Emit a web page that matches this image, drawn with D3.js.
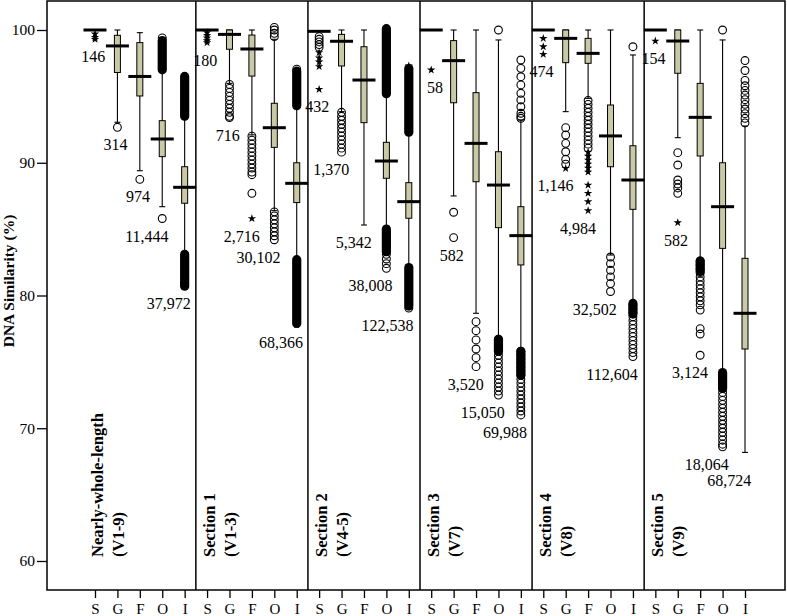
<!DOCTYPE html>
<html><head><meta charset="utf-8">
<script src="https://cdn.jsdelivr.net/npm/d3@7"></script>
<style>
body{margin:0;background:#fff}
svg text{font-family:"Liberation Serif","Times New Roman",Times,serif;fill:#000}
</style>
</head><body>
<svg id="chart" width="787" height="616"></svg>
<script>
// ---------- data ----------
const panelNames = ["Nearly-whole-length", "Section 1", "Section 2", "Section 3", "Section 4", "Section 5"];
const panelRegions = ["(V1-9)", "(V1-3)", "(V4-5)", "(V7)", "(V8)", "(V9)"];
const groups = ["S", "G", "F", "O", "I"];
const yTicks = [60, 70, 80, 90, 100];

// 30 boxes: panel by panel, S G F O I
const whiskerLow = [
  100, 93.05, 89.4, 86.69, 83.18,
  100, 95.98, 92.1, 86.39, 82.8,
  99.9, 93.85, 85.31, 85.06, 82.17,
  100, 87.5, 78.66, 76.78, 75.9,
  100, 93.85, 94.85, 83.05, 79.41,
  100, 91.89, 82.73, 74.26, 68.18];
const quartile1 = [
  100, 96.8, 95.03, 90.46, 86.95,
  100, 98.55, 96.53, 91.16, 87.0,
  99.9, 97.29, 93.02, 88.83, 85.82,
  100, 94.52, 88.57, 85.11, 82.3,
  100, 97.54, 97.49, 89.7, 86.49,
  100, 96.74, 90.51, 83.55, 75.97];
const medians = [
  100, 98.8, 96.5, 91.79, 88.15,
  100, 99.67, 98.57, 92.64, 88.45,
  99.9, 99.15, 96.23, 90.13, 87.07,
  100, 97.69, 91.46, 88.32, 84.51,
  100, 99.37, 98.24, 92.02, 88.7,
  100, 99.17, 93.42, 86.69, 78.66];
const quartile3 = [
  100, 99.6, 99.05, 93.17, 89.7,
  100, 100, 99.62, 94.48, 90.0,
  99.9, 99.67, 98.74, 91.54, 88.5,
  100, 99.2, 95.28, 90.83, 86.69,
  100, 100, 99.37, 94.35, 91.28,
  100, 100, 95.98, 90.0, 82.8];
const whiskerHigh = [
  100, 100, 99.8, 96.86, 93.4,
  100, 100, 100, 99.3, 94.2,
  99.9, 100, 100, 95.1, 92.2,
  100, 100, 100, 99.25, 93.22,
  100, 100, 100, 100, 98.12,
  100, 100, 100, 99.25, 92.77];

const sampleCounts = [
  "146", "314", "974", "11,444", "37,972",
  "180", "716", "2,716", "30,102", "68,366",
  "432", "1,370", "5,342", "38,008", "122,538",
  "58", "582", "3,520", "15,050", "69,988",
  "474", "1,146", "4,984", "32,502", "112,604",
  "154", "582", "3,124", "18,064", "68,724"];

// outliers drawn as open circles
const outlierCircles = [
  [], [92.67], [88.75], [99.4, 85.8], [80.9],
  [], [95.9, 95.6, 95.3, 95.0, 94.7, 94.4, 94.1, 93.8, 93.5, 93.4],
      [92.0, 91.7, 91.4, 91.1, 90.8, 90.5, 90.2, 89.9, 89.6, 89.3, 89.1, 87.7],
      [100.2, 100.0, 99.75, 99.5, 86.3, 86.0, 85.7, 85.4, 85.1, 84.8, 84.5, 84.2],
      [97.05],
  [99.5, 99.3, 99.1, 98.9, 98.7],
      [93.8, 93.5, 93.2, 92.9, 92.6, 92.3, 92.0, 91.7, 91.4, 91.1, 90.8],
      [], [83.1, 82.75, 82.4, 82.05], [79.05],
  [], [86.27, 84.36], [78.03, 77.35, 76.65, 75.97, 75.32, 74.64],
      [100.0, 76.7, 76.4, 76.1, 75.8, 75.5, 75.2, 74.9, 74.6, 74.3, 74.0, 73.7, 73.4, 73.1, 72.8, 72.5],
      [97.74, 97.11, 96.48, 95.86, 95.23, 94.73, 94.22, 93.73, 93.5, 93.35,
       75.8, 75.5, 75.2, 74.9, 74.6, 74.3, 74.0, 73.7, 73.4, 73.1, 72.8, 72.5, 72.2, 71.9, 71.6, 71.3, 71.0],
  [], [92.64, 92.09, 91.46, 90.83, 90.26, 89.9],
      [94.7, 94.4, 94.1, 93.8, 93.5, 93.2, 92.9, 92.6, 92.3, 92.0, 91.7, 91.4, 91.1],
      [82.9, 82.4, 81.9, 81.4, 80.9, 80.3],
      [98.74, 79.3, 79.0, 78.7, 78.4, 78.1, 77.8, 77.5, 77.2, 76.9, 76.6, 76.3, 76.0, 75.7, 75.4],
  [], [90.76, 89.83, 88.7, 88.4, 88.1, 87.7],
      [82.6, 82.3, 82.0, 81.7, 81.4, 81.1, 80.8, 80.5, 80.2, 79.9, 79.6, 79.3, 78.9, 77.5, 77.1, 75.5],
      [100.0, 73.9, 73.6, 73.3, 73.0, 72.7, 72.4, 72.1, 71.8, 71.5, 71.2, 70.9, 70.6, 70.3, 70.0, 69.7, 69.4, 69.1, 68.8, 68.6],
      [97.7, 96.95, 96.2, 95.8, 95.45, 95.1, 94.75, 94.4, 94.05, 93.7, 93.35, 93.0]];

// extreme outliers drawn as stars
const outlierStars = [
  [99.7, 99.45, 99.3], [], [], [], [],
  [99.8, 99.6, 99.4, 99.2, 99.05], [], [85.8], [], [77.8],
  [98.3, 97.9, 97.6, 97.25, 95.53], [], [], [100.15], [97.3, 97.0],
  [96.99], [], [], [], [],
  [99.37, 98.74, 98.17], [89.58], [90.8, 90.5, 90.2, 89.9, 89.6, 89.3, 88.32, 87.7, 87.07, 86.39], [], [],
  [99.17], [85.49], [], [], []];

// ranges so dense with outliers that they print solid black
const outlierBands = [
  [], [], [], [[97.0, 99.2]], [[93.5, 96.5], [80.7, 83.1]],
  [], [], [], [], [[94.3, 96.9], [77.9, 82.7]],
  [], [], [], [[95.2, 100.1], [83.3, 85.0]], [[92.3, 97.1], [79.2, 82.1]],
  [], [], [], [[75.8, 76.7]], [[74.0, 75.8]],
  [], [], [], [], [[78.6, 79.4]],
  [], [], [[81.8, 82.6]], [[73.0, 74.2]], []];

// ---------- drawing ----------
const W = 787, H = 616;
const frame = {left: 47, top: 1, right: 785, bottom: 590};
const boxFill = "#c9c9a6";

const svg = d3.select("#chart");
svg.append("rect").attr("width", W).attr("height", H).attr("fill", "#fff");

const y = d3.scaleLinear().domain([60, 100]).range([561, 30]);
const x = d3.scalePoint().domain(d3.range(30)).range([95, 745]);

// frame
svg.append("rect")
  .attr("x", frame.left).attr("y", frame.top)
  .attr("width", frame.right - frame.left).attr("height", frame.bottom - frame.top)
  .attr("fill", "none").attr("stroke", "#000").attr("stroke-width", 1.5);

// panel dividers
for (let p = 1; p < panelNames.length; p++) {
  const xd = (x(5 * p - 1) + x(5 * p)) / 2;
  svg.append("line").attr("x1", xd).attr("x2", xd)
    .attr("y1", frame.top).attr("y2", frame.bottom)
    .attr("stroke", "#000").attr("stroke-width", 1.5);
}

// y axis
const yAxis = svg.append("g").attr("transform", `translate(${frame.left},0)`)
  .call(d3.axisLeft(y).tickValues(yTicks).tickSize(10).tickPadding(2));
yAxis.select(".domain").remove();
yAxis.selectAll(".tick line").attr("stroke", "#000").attr("stroke-width", 1.3);
yAxis.selectAll(".tick text").style("font-size", "15.5px");

svg.append("text")
  .attr("transform", "translate(13.5,281) rotate(-90)")
  .attr("text-anchor", "middle")
  .style("font-weight", "bold").style("font-size", "15.5px")
  .text("DNA Similarity (%)");

// x axis
const xAxis = svg.append("g").attr("transform", `translate(0,${frame.bottom})`)
  .call(d3.axisBottom(x).tickSize(8).tickPadding(5.5).tickFormat(i => groups[i % 5]));
xAxis.select(".domain").remove();
xAxis.selectAll(".tick line").attr("stroke", "#000").attr("stroke-width", 1.3);
xAxis.selectAll(".tick text").style("font-size", "15px");

// panel labels
panelNames.forEach((name, p) => {
  const x0 = x(5 * p);
  [name, panelRegions[p]].forEach((t, k) => {
    svg.append("text")
      .attr("transform", `translate(${x0 + (k === 0 ? 8 : 29)},557) rotate(-90)`)
      .attr("text-anchor", "start")
      .style("font-weight", "bold").style("font-size", "16.5px")
      .text(t);
  });
});

// boxes
const boxW = 6, medW = 23, capW = 6;
const star = d3.symbol().type(d3.symbolStar).size(22);
const g = svg.append("g");
const placed = [];
d3.range(30).forEach(i => {
  const cx = x(i);
  const bg = g.append("g");
  // whisker
  bg.append("line").attr("x1", cx).attr("x2", cx)
    .attr("y1", y(whiskerHigh[i])).attr("y2", y(whiskerLow[i]))
    .attr("stroke", "#000").attr("stroke-width", 1.1);
  [whiskerHigh[i], whiskerLow[i]].forEach(v => {
    bg.append("line").attr("x1", cx - capW / 2).attr("x2", cx + capW / 2)
      .attr("y1", y(v)).attr("y2", y(v)).attr("stroke", "#000").attr("stroke-width", 1.1);
  });
  // box
  if (quartile3[i] > quartile1[i]) {
    bg.append("rect").attr("x", cx - boxW / 2).attr("width", boxW)
      .attr("y", y(quartile3[i])).attr("height", y(quartile1[i]) - y(quartile3[i]))
      .attr("fill", boxFill).attr("stroke", "#000").attr("stroke-width", 1);
  }
  // median
  bg.append("line").attr("x1", cx - medW / 2).attr("x2", cx + medW / 2)
    .attr("y1", y(medians[i])).attr("y2", y(medians[i]))
    .attr("stroke", "#000").attr("stroke-width", 3);
  // dense bands
  outlierBands[i].forEach(([lo, hi]) => {
    bg.append("rect").attr("x", cx - 4.6).attr("width", 9.2)
      .attr("y", y(hi) - 4.6).attr("height", y(lo) - y(hi) + 9.2)
      .attr("rx", 4.6).attr("fill", "#000");
  });
  // circles
  outlierCircles[i].forEach(v => {
    bg.append("circle").attr("cx", cx).attr("cy", y(v)).attr("r", 3.9)
      .attr("fill", "none").attr("stroke", "#000").attr("stroke-width", 1.1);
  });
  // stars
  outlierStars[i].forEach(v => {
    bg.append("path").attr("d", star).attr("transform", `translate(${cx},${y(v)})`)
      .attr("fill", "#000");
  });
  // count label, below the lowest mark; pushed down if it hits a neighbour label
  const all = [whiskerLow[i]].concat(outlierCircles[i], outlierStars[i], outlierBands[i].map(b => b[0]));
  let ty = y(d3.min(all)) + 23;
  const t = bg.append("text").style("font-size", "16px").attr("text-anchor", "end")
    .text(sampleCounts[i]);
  const w = t.node().getComputedTextLength();
  const right = cx + 15 - 0.2 * w;
  const left = right - w;
  const panel = Math.floor(i / 5);
  placed.filter(b => b.panel === panel).forEach(b => {
    if (left < b.right && right > b.left && ty > b.y - 15 && ty < b.y + 15) ty = b.y + 16;
  });
  placed.push({panel, left, right, y: ty});
  t.attr("x", right).attr("y", ty);
});
</script>
</body></html>
